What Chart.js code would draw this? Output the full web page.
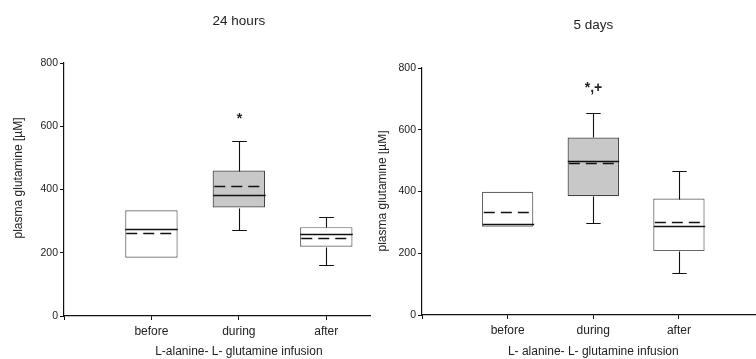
<!DOCTYPE html>
<html>
<head>
<meta charset="utf-8">
<script src="https://cdn.jsdelivr.net/npm/chart.js@4.4.1/dist/chart.umd.min.js"></script>
<style>
  body { margin: 0; background: #fff; }
  #wrap { position: relative; width: 756px; height: 359px; }
  canvas { position: absolute; top: 0; }
</style>
</head>
<body>
<div id="wrap">
  <canvas id="chart24h" width="378" height="359" style="left:0"></canvas>
  <canvas id="chart5d" width="378" height="359" style="left:378px"></canvas>
</div>
<script>
// categories and tick values
const categories = ['before', 'during', 'after'];
const yTicks = [0, 200, 400, 600, 800];

// 24 hours, plasma glutamine [µM]
const h24WhiskerLow = [184, 271, 162];
const h24Q1 = [184, 343, 219];
const h24Median = [276, 384, 260];
const h24Mean = [262, 410, 248];
const h24Q3 = [334, 460, 281];
const h24WhiskerHigh = [334, 552, 314];
const h24Marks = ['', '*', ''];
const h24MarkAt = [0, 622, 0];

// 5 days
const d5WhiskerLow = [286, 297, 136];
const d5Q1 = [286, 385, 207];
const d5Median = [294, 499, 287];
const d5Mean = [333, 493, 300];
const d5Q3 = [399, 575, 377];
const d5WhiskerHigh = [399, 655, 468];
const d5Marks = ['', '*,+', ''];
const d5MarkAt = [0, 736, 0];

const boxFills = ['#ffffff', '#c8c8c8', '#ffffff'];
const FONT = '"Liberation Sans", Arial, Helvetica, sans-serif';

// whiskers, median (solid), mean (dashed), marks and titles
const boxExtras = {
  id: 'boxExtras',
  afterDatasetsDraw(chart, args, opts) {
    const ctx = chart.ctx;
    const xs = chart.scales.x, ys = chart.scales.y;
    const bars = chart.getDatasetMeta(0).data;
    ctx.save();
    opts.q1.forEach((q1, i) => {
      const x = Math.round(xs.getPixelForValue(i + 1)) + 0.5;
      const hw = bars[i].width / 2;
      const cap = hw * 0.28;
      const py = v => Math.round(ys.getPixelForValue(v)) + 0.5;
      ctx.strokeStyle = '#111';
      ctx.lineWidth = 1.1;
      ctx.setLineDash([]);
      if (opts.high[i] > opts.q3[i]) {
        ctx.beginPath();
        ctx.moveTo(x, py(opts.q3[i]));
        ctx.lineTo(x, py(opts.high[i]));
        ctx.moveTo(x - cap, py(opts.high[i]));
        ctx.lineTo(x + cap, py(opts.high[i]));
        ctx.stroke();
      }
      if (opts.low[i] < q1) {
        ctx.beginPath();
        ctx.moveTo(x, py(q1));
        ctx.lineTo(x, py(opts.low[i]));
        ctx.moveTo(x - cap, py(opts.low[i]));
        ctx.lineTo(x + cap, py(opts.low[i]));
        ctx.stroke();
      }
      // median
      ctx.lineWidth = 1.4;
      ctx.beginPath();
      ctx.moveTo(x - hw, py(opts.median[i]));
      ctx.lineTo(x + hw, py(opts.median[i]));
      ctx.stroke();
      // mean
      ctx.setLineDash([11, 6]);
      ctx.beginPath();
      ctx.moveTo(x - hw + 1, py(opts.mean[i]));
      ctx.lineTo(x + hw - 1, py(opts.mean[i]));
      ctx.stroke();
      ctx.setLineDash([]);
      // significance marks
      if (opts.marks[i]) {
        ctx.fillStyle = '#222';
        ctx.font = 'bold 14px ' + FONT;
        ctx.textAlign = 'center';
        ctx.textBaseline = 'middle';
        ctx.fillText(opts.marks[i], x, ys.getPixelForValue(opts.markAt[i]));
      }
    });
    // chart title and x-axis title, centred over the middle category
    const cx = xs.getPixelForValue(2);
    ctx.fillStyle = '#222';
    ctx.textAlign = 'center';
    ctx.textBaseline = 'middle';
    ctx.font = '13.5px ' + FONT;
    ctx.fillText(opts.title, cx, opts.titleY);
    ctx.font = '12px ' + FONT;
    ctx.fillText(opts.xTitle, cx, 352);
    // y-axis title
    ctx.translate(opts.yTitleX, opts.yTitleY);
    ctx.rotate(-Math.PI / 2);
    ctx.fillText('plasma glutamine [\u00b5M]', 0, 0);
    ctx.restore();
  }
};

function makeChart(id, d) {
  return new Chart(document.getElementById(id), {
    type: 'bar',
    data: {
      datasets: [{
        data: d.q1.map((q, i) => ({ x: i + 1, y: [q, d.q3[i]] })),
        backgroundColor: boxFills,
        borderColor: ['#666', '#444', '#666'],
        borderWidth: 1.2,
        borderSkipped: false,
        barPercentage: 0.6,
        categoryPercentage: 1
      }]
    },
    options: {
      responsive: false,
      animation: false,
      devicePixelRatio: 1,
      layout: { padding: { top: d.top, right: d.right, left: 0, bottom: 0 } },
      plugins: {
        legend: { display: false },
        tooltip: { enabled: false },
        title: { display: false },
        boxExtras: {
          low: d.low, q1: d.q1, median: d.median, mean: d.mean, q3: d.q3, high: d.high,
          marks: d.marks, markAt: d.markAt, title: d.title, titleY: d.titleY,
          xTitle: d.xTitle, yTitleX: d.yTitleX, yTitleY: d.yTitleY
        }
      },
      scales: {
        x: {
          type: 'linear',
          min: 0,
          max: d.xMax,
          offset: false,
          afterBuildTicks: s => { s.ticks = [0, 1, 2, 3].map(v => ({ value: v })); },
          afterFit: s => { s.height = 359 - d.bottom; },
          ticks: {
            callback: v => categories[v - 1] || '',
            color: '#222',
            font: { family: FONT, size: 12 },
            padding: 4,
            maxRotation: 0,
            autoSkip: false
          },
          grid: { display: true, drawOnChartArea: false, offset: false, tickLength: 4, color: '#111' },
          border: { display: true, color: '#111', width: 1.2 }
        },
        y: {
          min: 0,
          max: 800,
          afterBuildTicks: s => { s.ticks = yTicks.map(v => ({ value: v })); },
          afterFit: s => { s.width = d.left; },
          ticks: { color: '#222', font: { family: FONT, size: 10.5 }, padding: 2 },
          grid: { display: true, drawOnChartArea: false, tickLength: 4, color: '#111' },
          border: { display: true, color: '#111', width: 1.2 }
        }
      }
    },
    plugins: [boxExtras]
  });
}

makeChart('chart24h', {
  low: h24WhiskerLow, q1: h24Q1, median: h24Median, mean: h24Mean, q3: h24Q3, high: h24WhiskerHigh,
  marks: h24Marks, markAt: h24MarkAt, title: '24 hours', titleY: 21,
  xTitle: 'L-alanine- L- glutamine infusion',
  top: 63, right: 8, left: 64, bottom: 316, xMax: 3.5, yTitleX: 19, yTitleY: 178
});

makeChart('chart5d', {
  low: d5WhiskerLow, q1: d5Q1, median: d5Median, mean: d5Mean, q3: d5Q3, high: d5WhiskerHigh,
  marks: d5Marks, markAt: d5MarkAt, title: '5 days', titleY: 25,
  xTitle: 'L- alanine- L- glutamine infusion',
  top: 68, right: 0, left: 44, bottom: 315, xMax: 3.9, yTitleX: 5, yTitleY: 191
});
</script>
</body>
</html>
